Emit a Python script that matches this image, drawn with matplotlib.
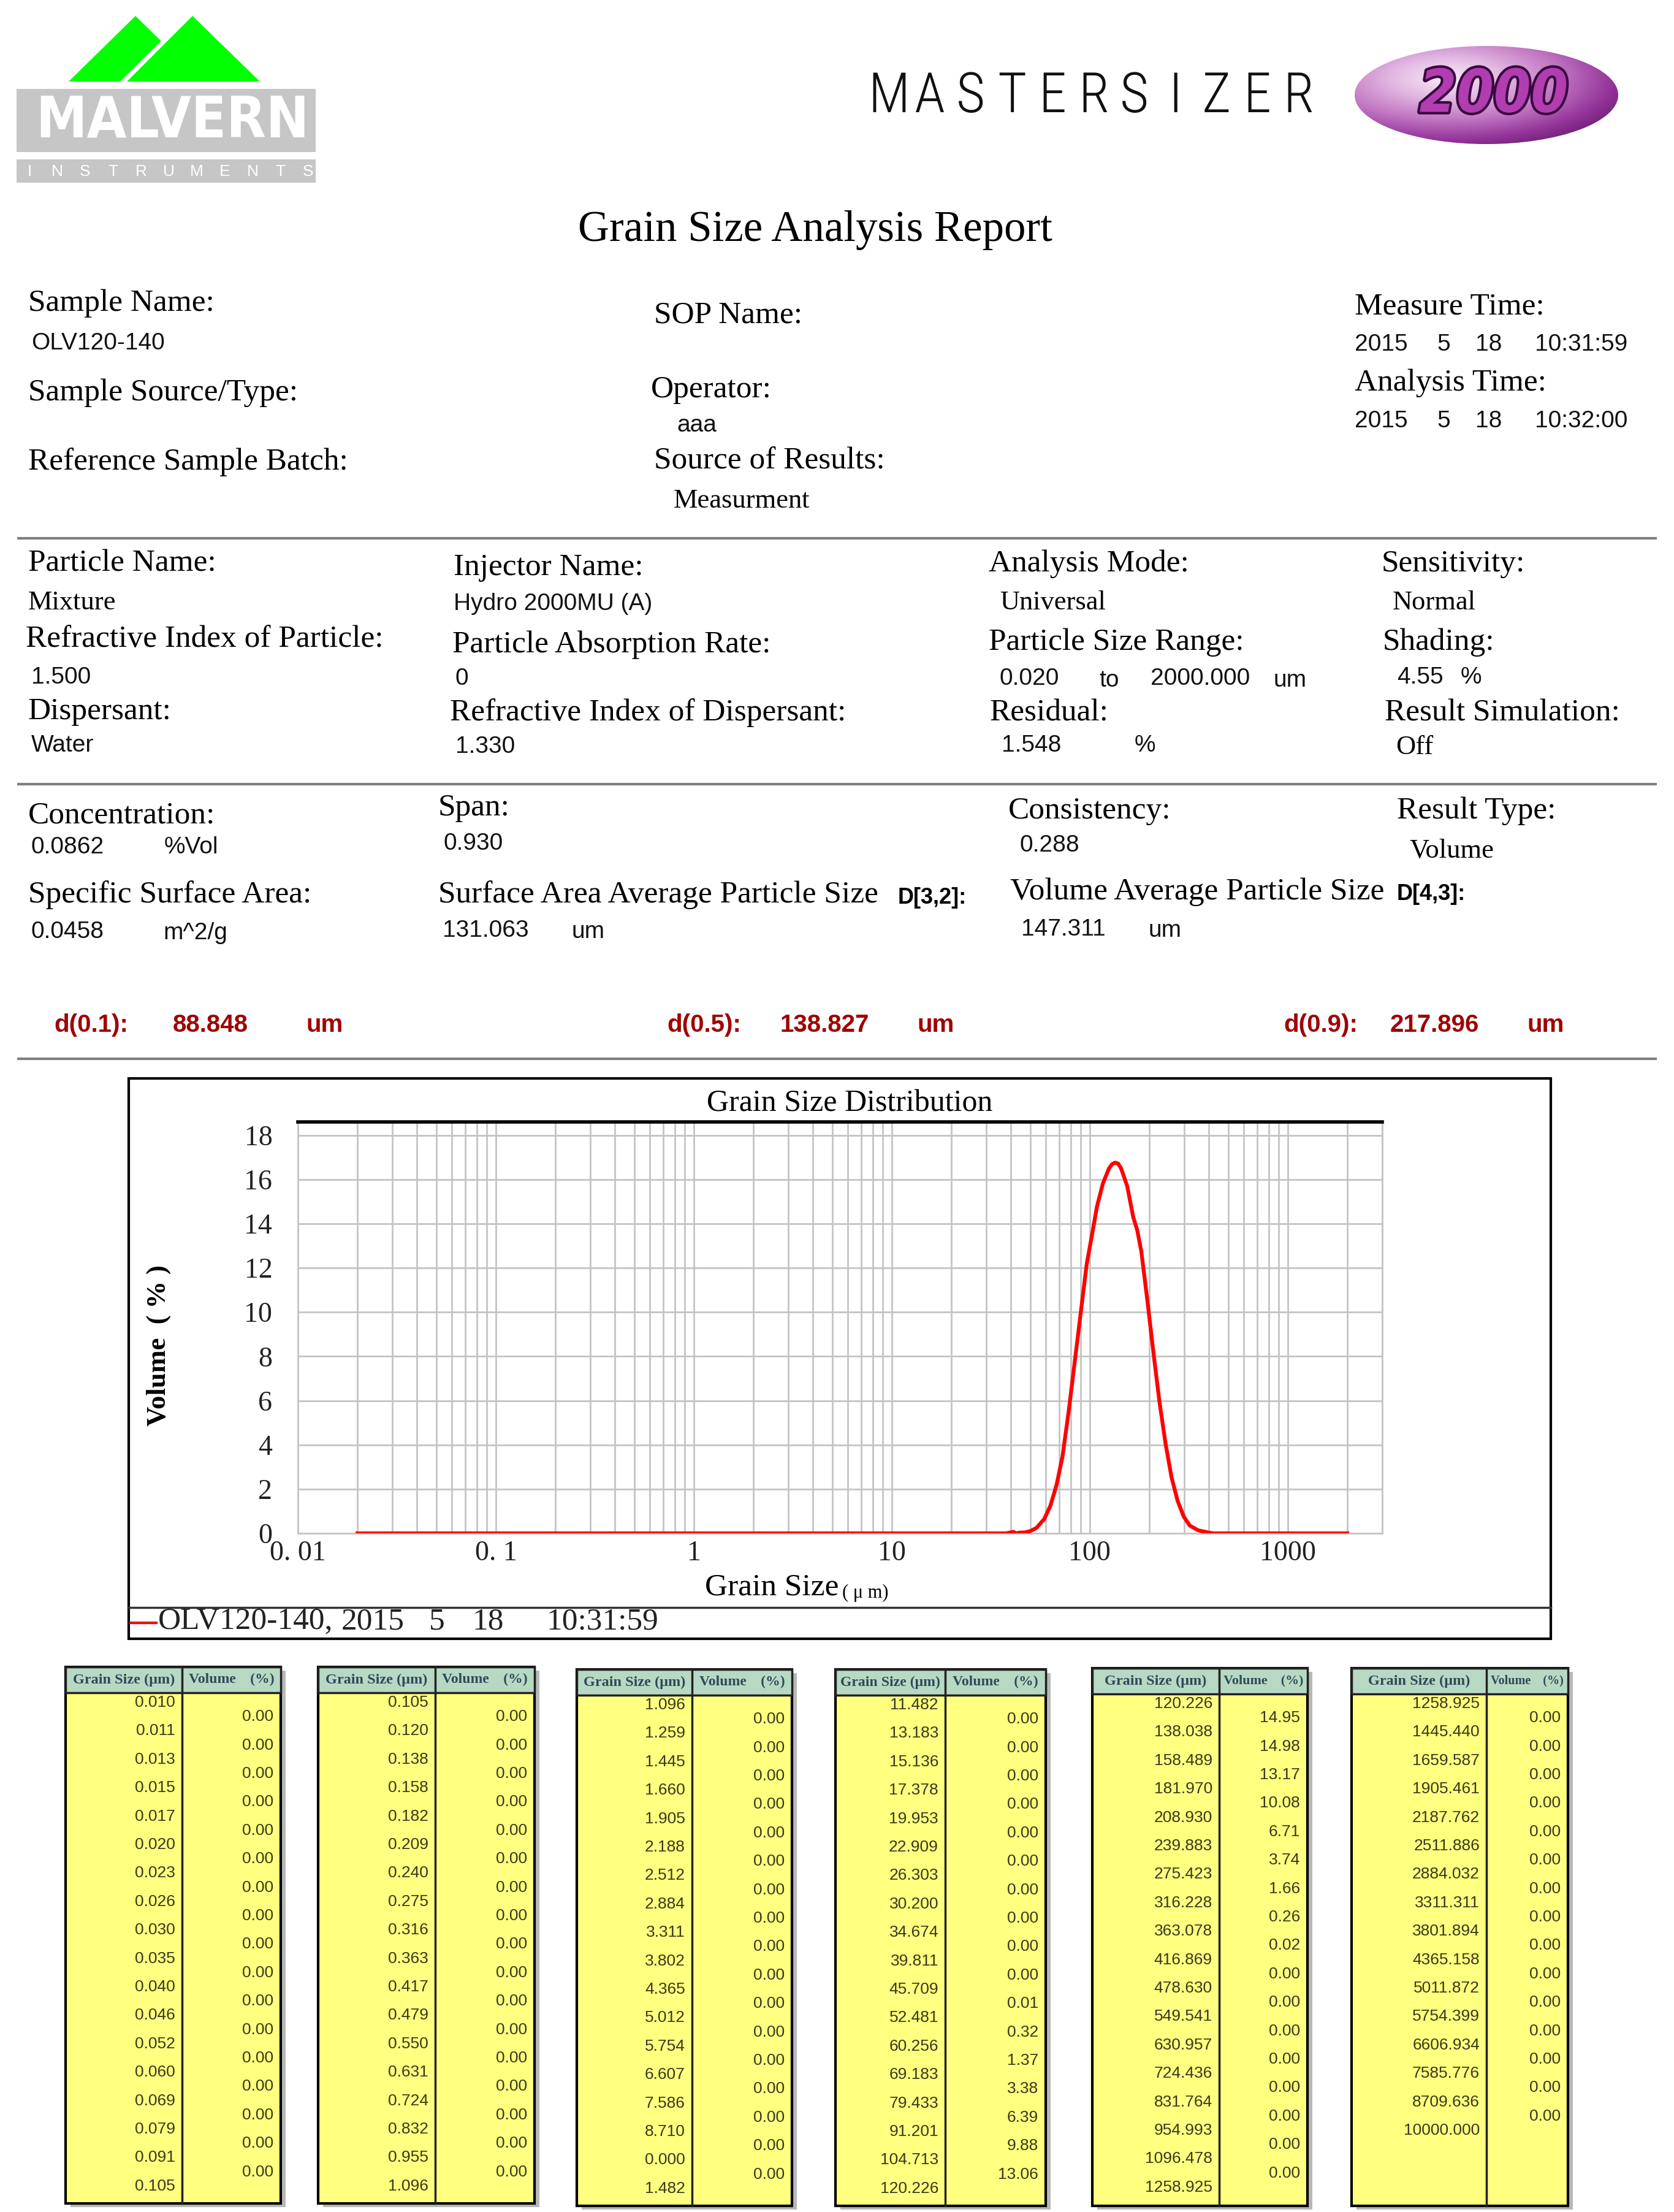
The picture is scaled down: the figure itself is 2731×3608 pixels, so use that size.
import os
import numpy as np
import matplotlib
matplotlib.use('Agg')
import matplotlib.pyplot as plt
from matplotlib import font_manager as fm
from matplotlib.patches import Rectangle, Polygon, Ellipse
from matplotlib.colors import LinearSegmentedColormap
from matplotlib.ticker import LogLocator, NullFormatter
import matplotlib.patheffects as pe

W, H = 2731, 3608

# ---- values ----
# distribution curve (grain size um, volume %)
curve_x = [0.02, 33.5, 38.0, 41.0, 42.5, 44.0, 47.0, 50.0, 53.7, 58.9, 63.2, 67.9,
           72.8, 78.1, 83.8, 89.9, 96.5, 103.6, 108.6, 116.5, 125.0, 130.0, 134.3,
           139.0, 143.9, 154.5, 165.7, 173.7, 182.0, 195.5, 209.6, 224.9, 241.3,
           258.8, 277.7, 298.0, 319.8, 351.6, 395.0, 420.0, 2000.0]
curve_y = [0.0, 0.0, 0.0, 0.07, 0.0, 0.03, 0.04, 0.10, 0.24, 0.65, 1.24, 2.18,
           3.47, 5.47, 7.70, 9.94, 12.18, 13.70, 14.76, 15.82, 16.50, 16.70, 16.76,
           16.72, 16.50, 15.70, 14.30, 13.70, 12.76, 10.50, 8.18, 5.94, 4.06,
           2.53, 1.47, 0.76, 0.35, 0.14, 0.04, 0.0, 0.0]

x_ticks = [0.01, 0.1, 1, 10, 100, 1000]
x_tick_labels = ['0. 01', '0. 1', '1', '10', '100', '1000']
y_ticks = [0, 2, 4, 6, 8, 10, 12, 14, 16, 18]

# result tables
size_col1 = [0.010, 0.011, 0.013, 0.015, 0.017, 0.020, 0.023, 0.026, 0.030, 0.035,
             0.040, 0.046, 0.052, 0.060, 0.069, 0.079, 0.091, 0.105]
vol_col1 = [0.00] * 17
size_col2 = [0.105, 0.120, 0.138, 0.158, 0.182, 0.209, 0.240, 0.275, 0.316, 0.363,
             0.417, 0.479, 0.550, 0.631, 0.724, 0.832, 0.955, 1.096]
vol_col2 = [0.00] * 17
size_col3 = [1.096, 1.259, 1.445, 1.660, 1.905, 2.188, 2.512, 2.884, 3.311, 3.802,
             4.365, 5.012, 5.754, 6.607, 7.586, 8.710, 0.000, 1.482]
vol_col3 = [0.00] * 17
size_col4 = [11.482, 13.183, 15.136, 17.378, 19.953, 22.909, 26.303, 30.200, 34.674,
             39.811, 45.709, 52.481, 60.256, 69.183, 79.433, 91.201, 104.713, 120.226]
vol_col4 = [0.00, 0.00, 0.00, 0.00, 0.00, 0.00, 0.00, 0.00, 0.00, 0.00, 0.01, 0.32,
            1.37, 3.38, 6.39, 9.88, 13.06]
size_col5 = [120.226, 138.038, 158.489, 181.970, 208.930, 239.883, 275.423, 316.228,
             363.078, 416.869, 478.630, 549.541, 630.957, 724.436, 831.764, 954.993,
             1096.478, 1258.925]
vol_col5 = [14.95, 14.98, 13.17, 10.08, 6.71, 3.74, 1.66, 0.26, 0.02, 0.00, 0.00,
            0.00, 0.00, 0.00, 0.00, 0.00, 0.00]
size_col6 = [1258.925, 1445.440, 1659.587, 1905.461, 2187.762, 2511.886, 2884.032,
             3311.311, 3801.894, 4365.158, 5011.872, 5754.399, 6606.934, 7585.776,
             8709.636, 10000.000]
vol_col6 = [0.00] * 15

plt.rcParams['font.family'] = ['Liberation Serif', 'DejaVu Serif']
SANS = ['Liberation Sans', 'DejaVu Sans']


def find_font(names, **fallback):
    files = {os.path.basename(f.fname).lower(): f.fname for f in fm.fontManager.ttflist}
    for n in names:
        for b, p in files.items():
            if b.startswith(n.lower()):
                return fm.FontProperties(fname=p)
    return fm.FontProperties(**fallback)


narrow_bold = find_font(['LiberationSansNarrow-Bold.', 'DejaVuSansCondensed-Bold.',
                         'NotoSans-CondensedBold.', 'RobotoCondensed-Bold'],
                        family='Liberation Sans', weight='bold')
narrow_thin = find_font(['NotoSans-ExtraCondensedLight', 'NotoSans-ExtraCondensedThin',
                         'NotoSans-CondensedLight', 'RobotoCondensed-Light',
                         'LiberationSansNarrow-Regular', 'DejaVuSansCondensed.'],
                        family='Liberation Sans')
narrow_bi = find_font(['LiberationSansNarrow-BoldItalic', 'DejaVuSansCondensed-BoldOblique',
                       'NotoSans-CondensedBoldItalic'],
                      family='Liberation Sans', weight='bold', style='italic')

fig = plt.figure(figsize=(W / 100, H / 100), dpi=100)
lay = fig.add_axes([0, 0, 1, 1], zorder=0)
lay.axis('off')
renderer = fig.canvas.get_renderer()


def fit(t, width, cap=None):
    w = t.get_window_extent(renderer).width
    size = t.get_fontsize() * width / w
    if cap is not None:
        size = min(size, cap)
    t.set_fontsize(size)


# ---- Malvern logo ----
lay.add_patch(Polygon([(112, 133), (221, 26), (263, 67), (196, 133)], color='#00FF00', lw=0))
lay.add_patch(Polygon([(207, 133), (314, 26), (424, 133)], color='#00FF00', lw=0))
lay.add_patch(Rectangle((27, 145), 488, 103, color='#C6C6C6', lw=0))
lay.add_patch(Rectangle((27, 260), 488, 38, color='#C6C6C6', lw=0))
t = lay.text(281, 198, 'MALVERN', fontproperties=narrow_bold, color='white',
             ha='center', va='center', fontsize=60)
fit(t, 446, cap=80)
for i, ch in enumerate('INSTRUMENTS'):
    lay.text(48 + i * 45.5, 280, ch, family=SANS, fontsize=19, color='white',
             ha='center', va='center')

# ---- Mastersizer 2000 ----
tm = lay.text(0, -500, 'M', fontproperties=narrow_thin, fontsize=80)
fit(tm, 68, cap=125)
msize = tm.get_fontsize()
tm.remove()
for cx, ch in zip(np.linspace(1450, 2118, 11), 'MASTERSIZER'):
    lay.text(cx, 158, ch, fontproperties=narrow_thin, fontsize=msize, color='#111111',
             ha='center', va='center')

gx, gy = np.meshgrid(np.linspace(-1, 1, 430), np.linspace(-1, 1, 160))
rr = np.sqrt(((gx + 0.3) / 1.25) ** 2 + ((gy + 0.35) / 1.25) ** 2)
ball_cmap = LinearSegmentedColormap.from_list(
    'ball', ['#F7ECF7', '#E2B8E2', '#C278C2', '#93349A', '#5A1260'])
im = lay.imshow(rr, cmap=ball_cmap, vmin=0, vmax=1.35, extent=(2210, 2640, 235, 75),
                aspect='auto', interpolation='bilinear', zorder=2)
ell = Ellipse((2425, 155), 430, 160, facecolor='none', edgecolor='none')
lay.add_patch(ell)
im.set_clip_path(ell)
t2 = lay.text(2437, 156, '2000', fontproperties=narrow_bi, fontsize=80, color='#B13DB1',
              ha='center', va='center', zorder=3)
t2.set_path_effects([pe.withStroke(linewidth=6, foreground='#3A0840')])
fit(t2, 243, cap=104)

# ---- report header ----
lay.text(1330, 376, 'Grain Size Analysis Report', fontsize=51, ha='center', va='center')

serif_labels = [
    ('Sample Name:', 46, 495), ('Sample Source/Type:', 46, 641),
    ('Reference Sample Batch:', 46, 754), ('SOP Name:', 1067, 514),
    ('Operator:', 1062, 636), ('Source of Results:', 1067, 752),
    ('Measure Time:', 2210, 500), ('Analysis Time:', 2210, 625),
    ('Particle Name:', 46, 919), ('Refractive Index of Particle:', 42, 1043),
    ('Dispersant:', 46, 1161), ('Injector Name:', 740, 926),
    ('Particle Absorption Rate:', 738, 1052), ('Refractive Index of Dispersant:', 734, 1163),
    ('Analysis Mode:', 1613, 920), ('Particle Size Range:', 1613, 1048),
    ('Residual:', 1615, 1163), ('Sensitivity:', 2254, 920), ('Shading:', 2256, 1048),
    ('Result Simulation:', 2259, 1163),
    ('Concentration:', 46, 1330), ('Specific Surface Area:', 46, 1460),
    ('Span:', 715, 1318), ('Surface Area Average Particle Size', 715, 1460),
    ('Consistency:', 1645, 1323), ('Volume Average Particle Size', 1648, 1455),
    ('Result Type:', 2279, 1323),
]
for s, x, y in serif_labels:
    lay.text(x, y, s, fontsize=37, va='center')

serif_values = [('Measurment', 1099, 817), ('Mixture', 46, 983), ('Universal', 1631, 983),
                ('Normal', 2272, 983), ('Off', 2277, 1219), ('Volume', 2300, 1388)]
for s, x, y in serif_values:
    lay.text(x, y, s, fontsize=32, va='center')

sans_values = [
    ('OLV120-140', 51, 560), ('aaa', 1104, 694),
    ('2015', 2210, 562), ('5', 2344, 562), ('18', 2407, 562), ('10:31:59', 2504, 562),
    ('2015', 2210, 687), ('5', 2344, 687), ('18', 2407, 687), ('10:32:00', 2504, 687),
    ('1.500', 51, 1105), ('Water', 51, 1216), ('Hydro 2000MU (A)', 740, 985),
    ('0', 743, 1107), ('1.330', 743, 1218),
    ('0.020', 1631, 1107), ('to', 1793, 1110), ('2000.000', 1877, 1107), ('um', 2078, 1110),
    ('1.548', 1634, 1216), ('%', 1851, 1216), ('4.55', 2279, 1105), ('%', 2383, 1105),
    ('0.0862', 51, 1382), ('%Vol', 268, 1382), ('0.0458', 51, 1520), ('m^2/g', 266, 1522),
    ('0.930', 724, 1376), ('131.063', 722, 1518), ('um', 933, 1520),
    ('0.288', 1664, 1379), ('147.311', 1666, 1516), ('um', 1874, 1518),
]
for s, x, y in sans_values:
    lay.text(x, y, s, family=SANS, fontsize=28, va='center', color='#111111')

lay.text(1465, 1465, 'D[3,2]:', family=SANS, fontsize=26, weight='bold', va='center')
lay.text(2279, 1458, 'D[4,3]:', family=SANS, fontsize=26, weight='bold', va='center')

d_values = [('d(0.1):', 88), ('88.848', 282), ('um', 500),
            ('d(0.5):', 1088), ('138.827', 1273), ('um', 1497),
            ('d(0.9):', 2094), ('217.896', 2268), ('um', 2492)]
for s, x in d_values:
    lay.text(x, 1672, s, family=SANS, fontsize=29, weight='bold', color='#A00000', va='center')

for y in (878, 1279, 1727):
    lay.plot([28, 2703], [y, y], color='#808080', lw=3, solid_capstyle='butt')

# ---- distribution chart ----
lay.add_patch(Rectangle((210, 1759), 2320, 914, facecolor='white', edgecolor='black', lw=3))
lay.plot([210, 2530], [2622, 2622], color='#333333', lw=2.5)
lay.plot([213, 255], [2647, 2647], color='red', lw=3)
for s, x in [('OLV120-140,', 258), ('2015', 557), ('5', 700), ('18', 771), ('10:31:59', 892)]:
    lay.text(x, 2645, s, fontsize=37, va='center', color='#222222')
lay.text(1386, 1800, 'Grain Size Distribution', fontsize=36, ha='center', va='center')
lay.text(1374, 2598, '( μ m)', fontsize=22, va='center')

ax = fig.add_axes([486 / W, 1 - 2501 / H, (2255 - 486) / W, (2501 - 1830) / H], zorder=3)
ax.set_xscale('log')
ax.plot(curve_x, curve_y, color='red', lw=4.5, solid_joinstyle='round', zorder=4)
ax.set_xlim(0.01, 3000)
ax.set_ylim(0, 18.6)
ax.set_xticks(x_ticks, labels=x_tick_labels)
ax.xaxis.set_minor_locator(LogLocator(base=10, subs=np.arange(2, 10), numticks=30))
ax.xaxis.set_minor_formatter(NullFormatter())
ax.set_yticks(y_ticks)
ax.grid(True, which='both', color='#C4C4C4', lw=2)
ax.tick_params(which='both', length=0, labelsize=33, colors='#222222')
ax.tick_params(axis='y', pad=30)
ax.tick_params(axis='x', pad=8)
for side in ('left', 'bottom', 'right'):
    ax.spines[side].set_color('#C4C4C4')
    ax.spines[side].set_linewidth(2)
ax.spines['top'].set_color('black')
ax.spines['top'].set_linewidth(4)
ax.set_ylabel('Volume  ( % )', fontsize=32, weight='bold')
ax.yaxis.set_label_coords(-0.117, 0.457)
ax.set_xlabel('Grain Size', fontsize=37)
ax.xaxis.set_label_coords(0.437, -0.097)

# ---- result tables ----
tables = [
    (size_col1, vol_col1, 107, 297, 458, 2719, 3594),
    (size_col2, vol_col2, 519, 710, 872, 2719, 3594),
    (size_col3, vol_col3, 941, 1129, 1292, 2723, 3598),
    (size_col4, vol_col4, 1363, 1542, 1706, 2723, 3598),
    (size_col5, vol_col5, 1782, 1989, 2133, 2721, 3598),
    (size_col6, vol_col6, 2205, 2425, 2558, 2721, 3598),
]
row_h = 46.4
for sizes, vols, x0, xd, x1, y0, y1 in tables:
    lay.add_patch(Rectangle((x0 + 8, y0 + 6), x1 - x0, y1 - y0, color='#B8B8B8', lw=0))
    lay.add_patch(Rectangle((x0, y0), x1 - x0, y1 - y0, facecolor='#FFFF80',
                            edgecolor='black', lw=3))
    lay.add_patch(Rectangle((x0, y0), x1 - x0, 42, facecolor='#B7D9C4',
                            edgecolor='#222222', lw=2.5))
    lay.plot([xd, xd], [y0, y1], color='#222222', lw=2.5)
    h1 = lay.text((x0 + xd) / 2, y0 + 21, 'Grain Size (μm)', fontsize=17.5, weight='bold',
                  color='#2E4A58', ha='center', va='center')
    fit(h1, xd - x0 - 16, cap=17.5)
    h2 = lay.text((xd + x1) / 2, y0 + 20, 'Volume    (%)', fontsize=17, weight='bold',
                  color='#2E4A58', ha='center', va='center')
    fit(h2, x1 - xd - 14, cap=17)
    for i, v in enumerate(sizes):
        lay.text(xd - 11, y0 + 58 + i * row_h, '%.3f' % v, family=SANS, fontsize=19,
                 color='#3A3A18', ha='right', va='center')
    for i, v in enumerate(vols):
        lay.text(x1 - 12, y0 + 58 + row_h / 2 + i * row_h, '%.2f' % v, family=SANS,
                 fontsize=19, color='#3A3A18', ha='right', va='center')

lay.set_xlim(0, W)
lay.set_ylim(H, 0)
fig.savefig('out.png', dpi=100)
